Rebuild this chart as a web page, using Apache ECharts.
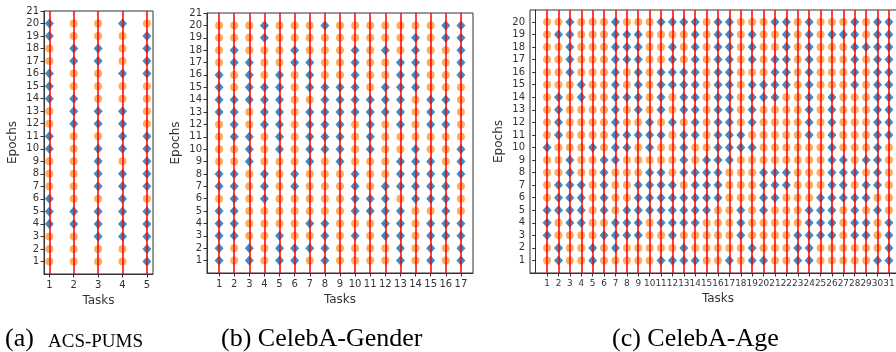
<!DOCTYPE html>
<html>
<head>
<meta charset="utf-8">
<script src="https://cdn.jsdelivr.net/npm/echarts@6/dist/echarts.min.js"></script>
<style>
html, body { margin: 0; padding: 0; background: #fff; }
#chart { width: 896px; height: 352px; }
</style>
</head>
<body>
<div id="chart"></div>
<script>
// tick labels
const tasksA = [1, 2, 3, 4, 5]
const tasksB = [1, 2, 3, 4, 5, 6, 7, 8, 9, 10, 11, 12, 13, 14, 15, 16, 17]
const tasksC = [1, 2, 3, 4, 5, 6, 7, 8, 9, 10, 11, 12, 13, 14, 15, 16, 17, 18, 19, 20,
  21, 22, 23, 24, 25, 26, 27, 28, 29, 30, 31]
const epochs = [1, 2, 3, 4, 5, 6, 7, 8, 9, 10, 11, 12, 13, 14, 15, 16, 17, 18, 19, 20]
const epochTicksAB = [1, 2, 3, 4, 5, 6, 7, 8, 9, 10, 11, 12, 13, 14, 15, 16, 17, 18, 19, 20, 21]
const epochTicksC = [1, 2, 3, 4, 5, 6, 7, 8, 9, 10, 11, 12, 13, 14, 15, 16, 17, 18, 19, 20]

// tasks drawn as blue diamonds, one list per epoch (first = epoch 1)
const selectedA = [
  [5], [5], [3, 4, 5], [1, 2, 3, 4, 5], [1, 2, 3, 4, 5],
  [1, 4], [3, 4, 5], [3, 4, 5], [3, 5], [1, 3, 4, 5],
  [1, 4, 5], [2, 3, 4], [2, 3, 4], [1, 2], [1],
  [1, 4, 5], [2, 3, 5], [2, 3, 5], [1, 5], [1, 4]
]
const selectedB = [
  [1, 3, 5, 6, 8, 13, 15, 17],
  [1, 3, 5, 6, 7, 8, 13, 15, 17],
  [1, 2, 5, 8, 10, 12, 13, 15, 16, 17],
  [1, 2, 7, 8, 12, 13, 15, 16, 17],
  [1, 2, 10, 11, 12, 13, 16],
  [2, 4, 10, 11, 12, 14, 15, 16],
  [1, 2, 4, 6, 10, 12, 13, 14, 15, 16],
  [1, 2, 4, 6, 10, 13, 14, 15, 16, 17],
  [3, 7, 9, 13, 14, 15, 17],
  [3, 5, 7, 8, 9, 11, 14, 17],
  [2, 3, 5, 7, 8, 9, 11],
  [2, 4, 5, 7, 8, 9, 11, 13, 15, 16],
  [1, 2, 4, 5, 7, 8, 9, 10, 11, 12, 13, 15, 16],
  [1, 2, 3, 4, 5, 8, 9, 10, 11, 12, 13, 15, 16],
  [1, 3, 4, 5, 7, 8, 9, 10, 12, 13, 14],
  [1, 3, 5, 7, 10, 13, 14, 17],
  [2, 3, 6, 7, 10, 13, 14, 17],
  [2, 6, 10, 12, 14, 17],
  [4, 14, 16, 17],
  [4, 8, 16, 17]
]
const selectedC = [
  [2, 5, 11, 12, 13, 14, 17, 19, 20, 23, 24, 30, 31],
  [2, 5, 7, 13, 19, 23, 24, 31],
  [1, 6, 7, 8, 9, 12, 18, 23, 24, 25, 26, 28, 29, 31],
  [1, 3, 4, 7, 8, 9, 11, 12, 13, 14, 18, 24, 25, 26, 28, 29, 31],
  [1, 2, 3, 4, 6, 8, 9, 10, 11, 12, 13, 14, 15, 18, 20, 24, 25, 26, 28, 30],
  [2, 3, 4, 6, 9, 10, 11, 12, 13, 14, 15, 16, 20, 21, 25, 26, 27, 28, 29],
  [2, 3, 4, 6, 9, 10, 11, 12, 14, 15, 16, 20, 21, 22, 26, 27, 29, 30],
  [3, 6, 10, 11, 13, 14, 15, 16, 20, 21, 22, 26, 27, 28, 30],
  [3, 6, 7, 13, 15, 16, 17, 26, 27, 29, 30],
  [1, 5, 7, 8, 10, 13, 16, 17, 18, 19, 26, 30],
  [2, 7, 8, 9, 10, 11, 13, 14, 16, 17, 18, 24, 26, 30, 31],
  [2, 7, 10, 12, 14, 16, 17, 19, 24, 26, 30, 31],
  [2, 7, 9, 11, 13, 14, 16, 17, 19, 24, 26, 30, 31],
  [2, 4, 7, 8, 9, 11, 13, 14, 16, 17, 19, 20, 21, 24, 26, 30, 31],
  [4, 7, 9, 11, 12, 13, 14, 16, 17, 19, 20, 21, 22, 24, 28, 30, 31],
  [3, 7, 9, 11, 12, 13, 14, 16, 17, 21, 22, 24, 28, 30, 31],
  [3, 7, 8, 9, 12, 14, 16, 17, 19, 21, 22, 24, 28, 30, 31],
  [3, 7, 8, 9, 12, 14, 16, 17, 19, 22, 24, 28, 29, 30, 31],
  [2, 3, 7, 8, 9, 14, 16, 17, 19, 22, 24, 26, 27, 28, 30, 31],
  [3, 7, 11, 12, 13, 14, 16, 17, 21, 22, 24, 28, 30, 31]
]

const textColor = '#333'
const tickFont = 'DejaVu Sans'

const panels = [
  { tasks: tasksA, sel: selectedA, yTicks: epochTicksAB, xFont: 10,
    grid: { left: 44, top: 11, width: 109, height: 263 }, xMin: 0.78, xMax: 5.25, yMax: 21 },
  { tasks: tasksB, sel: selectedB, yTicks: epochTicksAB, xFont: 10,
    grid: { left: 207, top: 13, width: 266, height: 260 }, xMin: 0.2, xMax: 17.8, yMax: 21 },
  { tasks: tasksC, sel: selectedC, yTicks: epochTicksC, xFont: 8.9,
    grid: { left: 530, top: 10, width: 376, height: 263 }, xMin: -0.5, xMax: 32.5, yMax: 20.95 }
]

const grids = [], xAxes = [], yAxes = [], series = []

panels.forEach((p, i) => {
  grids.push(Object.assign({
    show: true, borderColor: '#333', borderWidth: 1, backgroundColor: 'transparent',
    containLabel: false, outerBoundsMode: 'none'
  }, p.grid))
  xAxes.push({
    type: 'value', gridIndex: i, min: p.xMin, max: p.xMax,
    name: 'Tasks', nameLocation: 'middle', nameGap: 19,
    nameTextStyle: { color: textColor, fontSize: 12, fontFamily: tickFont },
    splitLine: { show: false },
    axisLine: { show: true, lineStyle: { color: '#333', width: 1 } },
    axisTick: { show: true, length: 3.5, customValues: p.tasks, lineStyle: { color: '#333' } },
    axisLabel: {
      customValues: p.tasks, margin: 6, color: textColor, fontSize: p.xFont, fontFamily: tickFont,
      hideOverlap: false, showMinLabel: true, showMaxLabel: true
    }
  })
  yAxes.push({
    type: 'value', gridIndex: i, min: 0, max: p.yMax,
    name: 'Epochs', nameLocation: 'middle', nameGap: 25, nameRotate: 90,
    nameTextStyle: { color: textColor, fontSize: 12, fontFamily: tickFont },
    splitLine: { show: false },
    axisLine: { show: true, lineStyle: { color: '#333', width: 1 } },
    axisTick: { show: true, length: 3.5, customValues: p.yTicks, lineStyle: { color: '#333' } },
    axisLabel: {
      customValues: p.yTicks, margin: 5, color: textColor, fontSize: 10, fontFamily: tickFont,
      showMinLabel: true, showMaxLabel: true
    }
  })

  const orange = [], blue = []
  epochs.forEach((e, k) => {
    p.tasks.forEach(t => {
      if (p.sel[k].includes(t)) blue.push([t, e])
      else orange.push([t, e])
    })
  })

  series.push({
    type: 'scatter', xAxisIndex: i, yAxisIndex: i, z: 1,
    symbol: 'circle', symbolSize: 8, data: orange,
    itemStyle: { color: '#ff7f0e', opacity: 0.65 }, silent: true
  })
  series.push({
    type: 'scatter', xAxisIndex: i, yAxisIndex: i, z: 2, data: [],
    markLine: {
      silent: true, symbol: 'none', label: { show: false },
      lineStyle: { color: '#ff0000', width: 2, type: 'solid', opacity: 0.75 },
      data: p.tasks.map(t => ({ xAxis: t }))
    }
  })
  series.push({
    type: 'scatter', xAxisIndex: i, yAxisIndex: i, z: 3,
    symbol: 'diamond', symbolSize: [9, 10], data: blue,
    itemStyle: { color: '#1f77b4', opacity: 0.85 }, silent: true
  })
})

const captionFont = '"Liberation Serif", serif'
const chart = echarts.init(document.getElementById('chart'))
chart.setOption({
  animation: false,
  grid: grids,
  xAxis: xAxes,
  yAxis: yAxes,
  series: series,
  graphic: [
    { type: 'text', left: 5, top: 326, style: { text: '(a)', font: '26px ' + captionFont, fill: '#000' } },
    { type: 'text', left: 48, top: 333, style: { text: 'ACS-PUMS', font: '19px ' + captionFont, fill: '#000' } },
    { type: 'text', left: 221, top: 326, style: { text: '(b) CelebA-Gender', font: '26px ' + captionFont, fill: '#000' } },
    { type: 'text', left: 612, top: 326, style: { text: '(c) CelebA-Age', font: '26px ' + captionFont, fill: '#000' } }
  ]
})
</script>
</body>
</html>
